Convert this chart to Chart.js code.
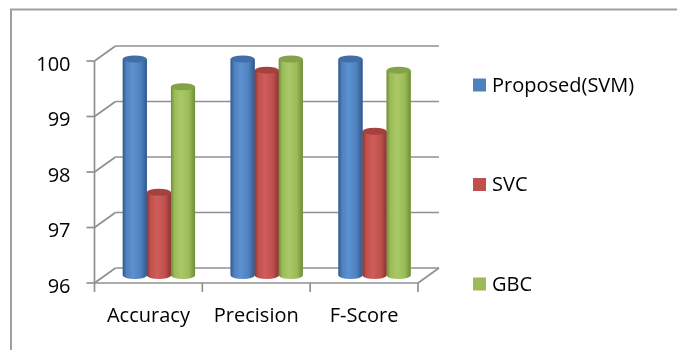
<!DOCTYPE html>
<html>
<head>
<meta charset="utf-8">
<script src="https://cdn.jsdelivr.net/npm/chart.js@4/dist/chart.umd.min.js"></script>
<style>
  html, body { margin: 0; padding: 0; background: #ffffff; }
  canvas { display: block; }
</style>
</head>
<body>
<canvas id="chart" width="677" height="350"></canvas>
<script>
// Metrics compared across the three classifiers
const categories = ['Accuracy', 'Precision', 'F-Score'];
const seriesNames = ['Proposed(SVM)', 'SVC', 'GBC'];
const proposedSvm = [99.9, 99.9, 99.9];
const svc = [97.5, 99.7, 98.6];
const gbc = [99.4, 99.9, 99.7];
const yTicks = [96, 97, 98, 99, 100];

// Office-style cylinder colours
const shades = [
  { base: '#4f81bd', light: '#5d91d0', dark: '#31598c', top: '#3f6ea8' },
  { base: '#c0504d', light: '#cf5e5b', dark: '#8c3432', top: '#a5413e' },
  { base: '#9bbb59', light: '#a9c966', dark: '#708d3a', top: '#84a249' }
];

// depth offset between the bar plane and the front / back walls
const DX = 10.5, DY = 7.5;
const FONT = '20px "Open Sans", sans-serif';
const GRID = '#909090';

function line(ctx, x1, y1, x2, y2) {
  ctx.beginPath();
  ctx.moveTo(x1, y1);
  ctx.lineTo(x2, y2);
  ctx.stroke();
}

// walls, floor, axis ticks and labels drawn in pseudo-3D around the bars
const walls3d = {
  id: 'walls3d',
  beforeDatasetsDraw(chart) {
    const { ctx, chartArea: a, scales: { x, y } } = chart;
    const fl = a.left - DX, fr = a.right - DX;
    const bl = a.left + DX, br = a.right + DX;
    ctx.save();
    ctx.strokeStyle = GRID;
    ctx.lineWidth = 1.7;
    yTicks.forEach(v => {
      const ym = y.getPixelForValue(v);
      line(ctx, fl, ym + DY, bl, ym - DY);
      line(ctx, bl, ym - DY, br, ym - DY);
      line(ctx, fl - 8, ym + DY, fl, ym + DY);
    });
    const y0 = y.getPixelForValue(yTicks[0]);
    const y1 = y.getPixelForValue(yTicks[yTicks.length - 1]);
    // floor front edge and right side
    line(ctx, fl, y0 + DY, fr, y0 + DY);
    line(ctx, fr, y0 + DY, br, y0 - DY);
    // front vertical axis
    line(ctx, fl, y1 + DY, fl, y0 + DY);
    // category separators
    const slot = (a.right - a.left) / categories.length;
    for (let i = 0; i <= categories.length; i++) {
      const xx = a.left + slot * i - DX;
      line(ctx, xx, y0 + DY, xx, y0 + DY + 9);
    }
    // tick labels
    ctx.fillStyle = '#000000';
    ctx.font = FONT;
    ctx.textAlign = 'right';
    ctx.textBaseline = 'alphabetic';
    yTicks.forEach(v => {
      const ym = y.getPixelForValue(v);
      ctx.fillText(String(v), fl - 24, ym + DY + 9.5);
    });
    ctx.textAlign = 'center';
    categories.forEach((c, i) => {
      ctx.fillText(c, x.getPixelForValue(i) - DX, y0 + DY + 39);
    });
    ctx.restore();
  },
  afterDatasetsDraw(chart) {
    const { ctx } = chart;
    ctx.save();
    chart.data.datasets.forEach((ds, di) => {
      const meta = chart.getDatasetMeta(di);
      const c = shades[di];
      meta.data.forEach(el => {
        const p = el.getProps(['x', 'y', 'base', 'width'], true);
        const rx = p.width / 2, ry = 3.5;
        const l = p.x - rx, r = p.x + rx;
        const g = ctx.createLinearGradient(l, 0, r, 0);
        g.addColorStop(0, c.dark);
        g.addColorStop(0.15, c.base);
        g.addColorStop(0.42, c.light);
        g.addColorStop(0.75, c.base);
        g.addColorStop(1, c.dark);
        ctx.fillStyle = g;
        ctx.beginPath();
        ctx.moveTo(l, p.y);
        ctx.lineTo(l, p.base);
        ctx.ellipse(p.x, p.base, rx, ry, 0, Math.PI, 0, true);
        ctx.lineTo(r, p.y);
        ctx.closePath();
        ctx.fill();
        ctx.fillStyle = c.top;
        ctx.beginPath();
        ctx.ellipse(p.x, p.y, rx, ry, 0, 0, Math.PI * 2);
        ctx.fill();
      });
    });
    ctx.restore();
  },
  afterDraw(chart) {
    const { ctx } = chart;
    ctx.save();
    // outer frame (top and left edges)
    ctx.strokeStyle = '#a0a0a0';
    ctx.lineWidth = 2;
    ctx.strokeRect(11, 9.5, 720, 400);
    // legend
    ctx.font = FONT;
    ctx.textAlign = 'left';
    ctx.textBaseline = 'middle';
    chart.data.datasets.forEach((ds, i) => {
      const cy = 85 + i * 99.5;
      ctx.fillStyle = shades[i].base;
      ctx.fillRect(473, cy - 6.5, 13, 13);
      ctx.fillStyle = '#000000';
      ctx.fillText(ds.label, 492, cy + 1);
    });
    ctx.restore();
  }
};

new Chart(document.getElementById('chart'), {
  type: 'bar',
  data: {
    labels: categories,
    datasets: [
      { label: seriesNames[0], data: proposedSvm, backgroundColor: shades[0].base },
      { label: seriesNames[1], data: svc, backgroundColor: shades[1].base },
      { label: seriesNames[2], data: gbc, backgroundColor: shades[2].base }
    ]
  },
  options: {
    responsive: false,
    devicePixelRatio: 1,
    animation: false,
    layout: { padding: { left: 105, right: 248.5, top: 53.5, bottom: 74.5 } },
    datasets: { bar: { barPercentage: 1, categoryPercentage: 0.67, borderWidth: 0, base: yTicks[0] } },
    plugins: { legend: { display: false }, tooltip: { enabled: false } },
    scales: {
      x: { display: false },
      y: {
        display: false,
        min: yTicks[0],
        max: yTicks[yTicks.length - 1]
      }
    }
  },
  plugins: [walls3d]
});
</script>
</body>
</html>
